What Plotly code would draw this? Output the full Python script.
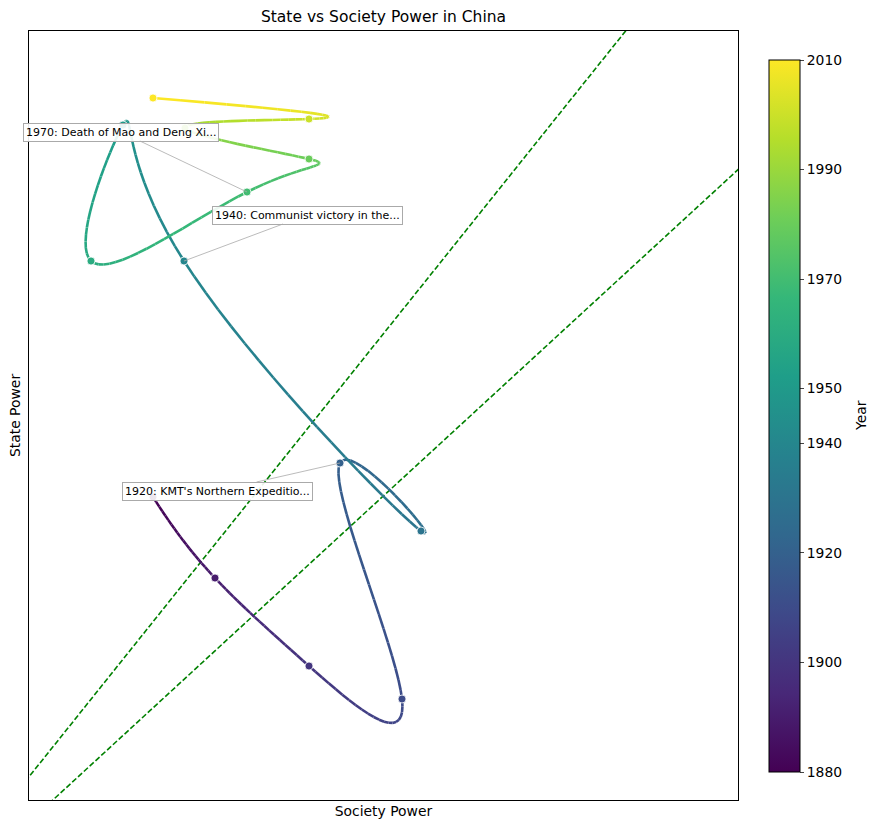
import numpy as np
import plotly.graph_objects as go
from plotly.colors import sample_colorscale

# ---- data ----
years = [1880, 1890, 1900, 1910, 1920, 1930, 1940, 1950, 1960, 1970, 1980, 1990, 2000, 2010]
society_power = [2.61, 3.23, 4.17, 5.10, 4.48, 5.29, 2.92, 2.31, 1.99, 3.55, 4.17, 2.93, 4.17, 2.61]
state_power = [4.51, 3.70, 2.82, 2.49, 4.85, 4.17, 6.87, 8.23, 6.87, 7.56, 7.89, 8.20, 8.29, 8.50]

event_years = [1920, 1940, 1970]
event_labels = ["1920: KMT's Northern Expeditio...",
                "1940: Communist victory in the...",
                "1970: Death of Mao and Deng Xi..."]
event_offsets = [(-123, 28), (123, -46), (-126, -60)]

boundary_slopes = [1.25, 0.92]
cbar_ticks = [1880, 1900, 1920, 1940, 1950, 1970, 1990, 2010]

x_range = [1.37, 8.46]
y_range = [1.48, 9.17]


def notaknot_spline(t, y, tt):
    t = np.asarray(t, float); y = np.asarray(y, float)
    n = len(t)
    h = np.diff(t)
    A = np.zeros((n, n)); b = np.zeros(n)
    A[0, 0] = h[1]; A[0, 1] = -(h[0] + h[1]); A[0, 2] = h[0]
    A[-1, -3] = h[-1]; A[-1, -2] = -(h[-2] + h[-1]); A[-1, -1] = h[-2]
    for i in range(1, n - 1):
        A[i, i - 1] = h[i - 1]; A[i, i] = 2 * (h[i - 1] + h[i]); A[i, i + 1] = h[i]
        b[i] = 6 * ((y[i + 1] - y[i]) / h[i] - (y[i] - y[i - 1]) / h[i - 1])
    M = np.linalg.solve(A, b)
    idx = np.clip(np.searchsorted(t, tt) - 1, 0, n - 2)
    t0 = t[idx]; t1 = t[idx + 1]; hh = t1 - t0
    return (M[idx] * (t1 - tt) ** 3 / (6 * hh) + M[idx + 1] * (tt - t0) ** 3 / (6 * hh)
            + (y[idx] / hh - M[idx] * hh / 6) * (t1 - tt)
            + (y[idx + 1] / hh - M[idx + 1] * hh / 6) * (tt - t0))


tt = np.linspace(years[0], years[-1], 2601)
xs = notaknot_spline(years, society_power, tt)
ys = notaknot_spline(years, state_power, tt)

fig = go.Figure()

# boundary dashed lines
for s in boundary_slopes:
    xx = [0, 10]
    fig.add_trace(go.Scatter(x=xx, y=[s * v for v in xx], mode="lines",
                             line=dict(color="green", width=1.6, dash="5.5px,2.4px"),
                             showlegend=False, hoverinfo="skip"))

# gradient curve
cmin, cmax = years[0], years[-1]
step = 10
for i in range(0, len(tt) - 1, step):
    j = min(i + step, len(tt) - 1)
    ym = tt[i:j + 1].mean()
    col = sample_colorscale("Viridis", [(ym - cmin) / (cmax - cmin)])[0]
    fig.add_trace(go.Scatter(x=xs[i:j + 1], y=ys[i:j + 1], mode="lines",
                             line=dict(color=col, width=2.6),
                             showlegend=False, hoverinfo="skip"))

# markers
fig.add_trace(go.Scatter(
    x=society_power, y=state_power, mode="markers",
    marker=dict(size=8, color=years, colorscale="Viridis", cmin=cmin, cmax=cmax,
                line=dict(color="white", width=0.8),
                colorbar=dict(tickvals=cbar_ticks, ticks="outside", ticklen=4,
                              tickfont=dict(size=13.9),
                              thickness=31, len=712 / 769, lenmode="fraction",
                              x=(769 - 29) / 709, xanchor="left",
                              y=(800 - 416) / 769, yanchor="middle",
                              xpad=0, ypad=0,
                              outlinewidth=1, outlinecolor="black")),
    showlegend=False, text=[str(y) for y in years], hoverinfo="text"))

for ey, lab, (ax, ay) in zip(event_years, event_labels, event_offsets):
    k = years.index(ey)
    fig.add_annotation(x=society_power[k], y=state_power[k], text=lab,
                       showarrow=True, arrowhead=0, arrowwidth=0.8, arrowcolor="#aaaaaa",
                       ax=ax, ay=ay, font=dict(size=11, color="black", family="DejaVu Sans"),
                       bgcolor="rgba(255,255,255,0.9)", bordercolor="#aaaaaa",
                       borderwidth=1, borderpad=2)

# colorbar title
fig.add_annotation(xref="paper", yref="paper", x=(861 - 29) / 709, y=(800 - 416) / 769,
                   text="Year", textangle=-90, showarrow=False,
                   font=dict(size=13.9), xanchor="center", yanchor="middle")

fig.update_layout(
    width=879, height=831,
    margin=dict(l=29, r=141, t=31, b=31),
    plot_bgcolor="white", paper_bgcolor="white",
    font=dict(family="DejaVu Sans", size=13.9, color="black"),
    title=dict(text="State vs Society Power in China", x=(29 + 738) / 2 / 879, xanchor="center",
               y=1 - 17 / 831, yanchor="middle", font=dict(size=15.5)),
    xaxis=dict(range=x_range, showticklabels=False, showgrid=False, zeroline=False,
               showline=True, linecolor="black", linewidth=1, mirror=True, ticks="",
               title=dict(text="Society Power", standoff=6, font=dict(size=13.9))),
    yaxis=dict(range=y_range, showticklabels=False, showgrid=False, zeroline=False,
               showline=True, linecolor="black", linewidth=1, mirror=True, ticks="",
               title=dict(text="State Power", standoff=4, font=dict(size=13.9))),
)

fig.write_html("out.html")
